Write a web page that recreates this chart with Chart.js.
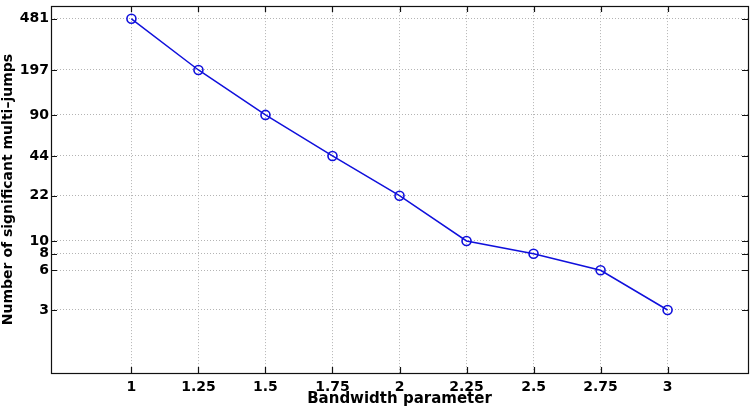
<!DOCTYPE html>
<html>
<head>
<meta charset="utf-8">
<script src="https://cdn.jsdelivr.net/npm/chart.js@4.4.1/dist/chart.umd.min.js"></script>
<style>
  html, body { margin: 0; padding: 0; background: #fff; }
  #wrap { width: 755px; height: 408px; }
</style>
</head>
<body>
<div id="wrap"><canvas id="chart" width="755" height="408"></canvas></div>
<script>
const bandwidths = [1, 1.25, 1.5, 1.75, 2, 2.25, 2.5, 2.75, 3];
const jumpCounts = [481, 197, 90, 44, 22, 10, 8, 6, 3];
const xTicks = [1, 1.25, 1.5, 1.75, 2, 2.25, 2.5, 2.75, 3];
const xTickLabels = ["1", "1.25", "1.5", "1.75", "2", "2.25", "2.5", "2.75", "3"];
const yTicks = [3, 6, 8, 10, 22, 44, 90, 197, 481];
const yTickLabels = ["3", "6", "8", "10", "22", "44", "90", "197", "481"];

const tickFont = { family: "'DejaVu Sans', sans-serif", size: 14, weight: "bold" };
const titleFont = { family: "'DejaVu Sans', sans-serif", size: 15, weight: "bold" };

// matlab style box with inward tick marks
const frameTicks = {
  id: "frameTicks",
  afterDraw(chart) {
    const { ctx, chartArea: a, scales: { x, y } } = chart;
    ctx.save();
    ctx.strokeStyle = "#111";
    ctx.lineWidth = 1.2;
    ctx.beginPath();
    for (const v of xTicks) {
      const px = Math.round(x.getPixelForValue(v)) + 0.5;
      ctx.moveTo(px, a.bottom); ctx.lineTo(px, a.bottom - 6);
      ctx.moveTo(px, a.top); ctx.lineTo(px, a.top + 6);
    }
    for (const v of yTicks) {
      const py = Math.round(y.getPixelForValue(v)) + 0.5;
      ctx.moveTo(a.left, py); ctx.lineTo(a.left + 6, py);
      ctx.moveTo(a.right, py); ctx.lineTo(a.right - 6, py);
    }
    ctx.stroke();
    ctx.strokeRect(Math.round(a.left) + 0.5, Math.round(a.top) + 0.5,
      Math.round(a.right - a.left), Math.round(a.bottom - a.top));
    ctx.restore();
  }
};

const points = bandwidths.map((b, i) => ({ x: b, y: jumpCounts[i] }));

new Chart(document.getElementById("chart"), {
  type: "line",
  data: {
    datasets: [{
      data: points,
      borderColor: "#1010dc",
      borderWidth: 1.5,
      pointStyle: "circle",
      pointRadius: 4.5,
      pointBorderWidth: 1.6,
      pointBorderColor: "#1010dc",
      pointBackgroundColor: "rgba(0,0,0,0)",
      tension: 0,
      clip: false
    }]
  },
  options: {
    responsive: false,
    animation: false,
    layout: { padding: { top: 5, right: 7, left: 0, bottom: 0 } },
    plugins: { legend: { display: false }, tooltip: { enabled: false } },
    scales: {
      x: {
        type: "linear",
        min: 0.7,
        max: 3.3,
        afterBuildTicks: s => { s.ticks = xTicks.map(v => ({ value: v })); },
        afterFit: s => { s.height = 35; s.paddingLeft = 0; s.paddingRight = 0; },
        ticks: {
          font: tickFont,
          color: "#000",
          padding: 6,
          maxRotation: 0,
          callback: (v) => xTickLabels[xTicks.indexOf(v)]
        },
        grid: { color: "#b4b4b4", lineWidth: 1, drawTicks: false },
        border: { display: false, dash: [1, 2] },
        title: { display: true, text: "Bandwidth parameter", font: titleFont, color: "#000", padding: { top: 0, bottom: 0 } }
      },
      y: {
        type: "logarithmic",
        min: 1,
        max: 600,
        afterBuildTicks: s => { s.ticks = yTicks.map(v => ({ value: v })); },
        afterFit: s => { s.width = 51; s.paddingTop = 0; s.paddingBottom = 0; },
        ticks: {
          font: tickFont,
          color: "#000",
          padding: 2,
          callback: (v) => yTickLabels[yTicks.indexOf(v)]
        },
        grid: { color: "#b4b4b4", lineWidth: 1, drawTicks: false },
        border: { display: false, dash: [1, 2] },
        title: { display: true, text: "Number of significant multi–jumps", font: { ...titleFont, size: 14 }, color: "#000", padding: { top: 0, bottom: 0 } }
      }
    }
  },
  plugins: [frameTicks]
});
</script>
</body>
</html>
